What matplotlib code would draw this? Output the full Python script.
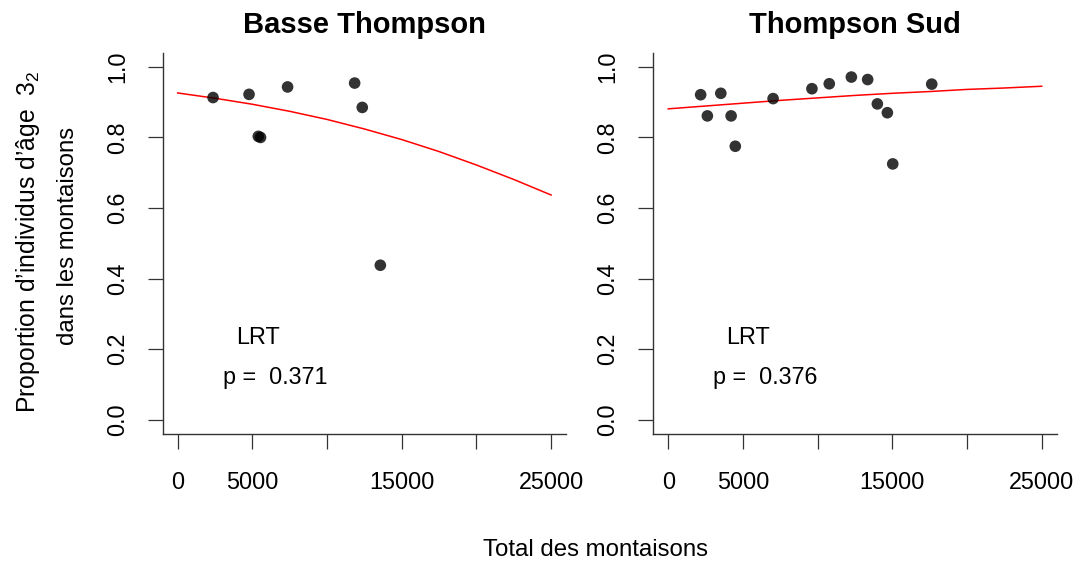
import matplotlib
matplotlib.use("Agg")
import matplotlib.pyplot as plt

plt.rcParams['font.family'] = ['Liberation Sans', 'DejaVu Sans']
plt.rcParams['mathtext.fontset'] = 'custom'
plt.rcParams['mathtext.rm'] = 'Liberation Sans'
plt.rcParams['mathtext.it'] = 'Liberation Sans:italic'

# ---- data ----
titles = ["Basse Thompson", "Thompson Sud"]
p_values = ["0.371", "0.376"]

bt_total = [2370, 4780, 5400, 5550, 7360, 11850, 12360, 13570]
bt_prop = [0.913, 0.922, 0.803, 0.800, 0.943, 0.954, 0.885, 0.438]

ts_total = [2170, 2620, 3520, 4210, 4490, 7020, 9620, 10780, 12260, 13350,
            14000, 14670, 15030, 17640]
ts_prop = [0.921, 0.861, 0.925, 0.861, 0.775, 0.910, 0.938, 0.952, 0.971,
           0.964, 0.895, 0.870, 0.725, 0.951]

# fitted curves
curve_x = [0, 2500, 5000, 7500, 10000, 12500, 15000, 17500, 20000, 22500, 25000]
bt_curve = [0.926, 0.911, 0.894, 0.874, 0.851, 0.824, 0.794, 0.760, 0.722, 0.681, 0.637]
ts_curve = [0.881, 0.889, 0.897, 0.905, 0.912, 0.919, 0.925, 0.930, 0.936, 0.940, 0.945]

x_ticks = [0, 5000, 10000, 15000, 20000, 25000]
x_ticklabels = ["0", "5000", "", "15000", "", "25000"]
y_ticks = [0.0, 0.2, 0.4, 0.6, 0.8, 1.0]
y_ticklabels = ["0.0", "0.2", "0.4", "0.6", "0.8", "1.0"]

W, H = 1079, 562
fig = plt.figure(figsize=(W / 100, H / 100), dpi=100)

FS = 16.8
FL = 17.3
ax_w = 403.3 / W
ax_h = 381.3 / H
ax_b = 1 - 434 / H
lefts = [162.7 / W, 653.3 / W]

panels = [(bt_total, bt_prop, bt_curve), (ts_total, ts_prop, ts_curve)]
for i, (tx, py, cy) in enumerate(panels):
    ax = fig.add_axes([lefts[i], ax_b, ax_w, ax_h])
    ax.plot(curve_x, cy, color='red', lw=1.1, zorder=2)
    ax.scatter(tx, py, s=70, color='black', alpha=0.8, edgecolors='none', zorder=3)
    ax.set_xlim(-1000, 26000)
    ax.set_ylim(-0.04, 1.04)
    ax.set_xticks(x_ticks)
    ax.set_xticklabels(x_ticklabels, fontsize=FS)
    ax.set_yticks(y_ticks)
    ax.set_yticklabels(y_ticklabels, fontsize=FS, rotation=90, va='center')
    for s in ['top', 'right']:
        ax.spines[s].set_visible(False)
    for s in ['left', 'bottom']:
        ax.spines[s].set_linewidth(1.0)
        ax.spines[s].set_color('#333333')
    ax.tick_params(axis='both', direction='out', length=10.8, width=0.9,
                   color='#333333')
    ax.tick_params(axis='x', pad=15.5)
    ax.tick_params(axis='y', pad=13.5)
    ax.set_title(titles[i], fontsize=21, fontweight='bold', pad=14.5)
    ax.text(5370, 0.214, "LRT", fontsize=FS, ha='center', va='baseline')
    ax.text(6510, 0.101, "p =  " + p_values[i], fontsize=FS, ha='center', va='baseline')

fig.text(28 / W, 1 - 242 / H, "Proportion d’individus d’âge  $\\mathregular{3_2}$",
         fontsize=17.8, rotation=90, ha='center', va='center')
fig.text(68 / W, 1 - 236 / H, "dans les montaisons",
         fontsize=FL, rotation=90, ha='center', va='center')
fig.text(595.5 / W, 1 - 550.5 / H, "Total des montaisons", fontsize=FL,
         ha='center', va='center')

fig.savefig("out.png", dpi=100)
